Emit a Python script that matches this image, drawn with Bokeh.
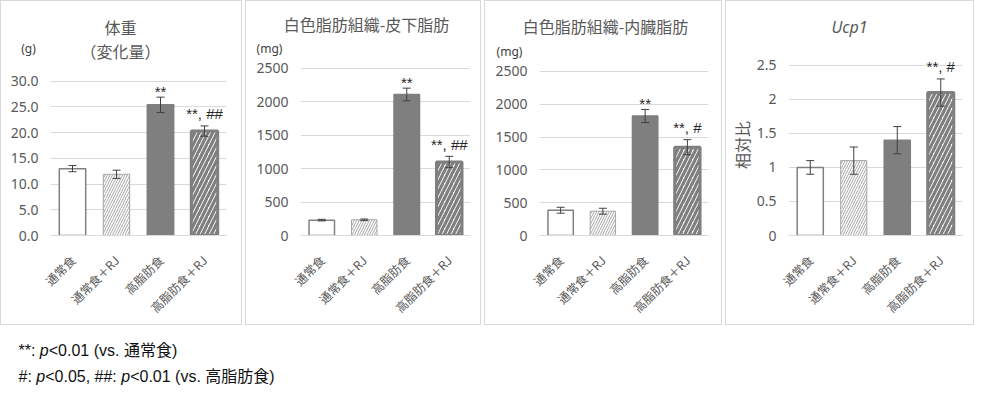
import math
from bokeh.plotting import figure
from bokeh.models import (ColumnDataSource, Range1d, FixedTicker,
                          NumeralTickFormatter, Whisker, TeeHead, Label)
from bokeh.layouts import row, column
from bokeh.core.properties import value
from bokeh.embed import file_html
from bokeh.resources import INLINE

# ---------------- data ----------------
groups = ["通常食", "通常食＋RJ", "高脂肪食", "高脂肪食＋RJ"]

bw_mean = [13.0, 11.9, 25.4, 20.3]
bw_err = [0.6, 0.8, 1.5, 1.0]
bw_sig = ["", "", "**", "**, ##"]
bw_ticks = [0, 5, 10, 15, 20, 25, 30]

sc_mean = [230, 235, 2110, 1100]
sc_err = [12, 12, 95, 85]
sc_sig = ["", "", "**", "**, ##"]

vi_mean = [385, 370, 1820, 1345]
vi_err = [45, 45, 100, 115]
vi_sig = ["", "", "**", "**, #"]
fat_ticks = [0, 500, 1000, 1500, 2000, 2500]

ucp_mean = [1.0, 1.1, 1.4, 2.1]
ucp_err = [0.1, 0.2, 0.2, 0.2]
ucp_sig = ["", "", "", "**, #"]
ucp_ticks = [0, 0.5, 1, 1.5, 2, 2.5]

titles = ["体重", "白色脂肪組織-皮下脂肪", "白色脂肪組織-内臓脂肪", "Ucp1"]
subtitle1 = "（変化量）"
units = ["(g)", "(mg)", "(mg)"]
ucp_axis_label = "相対比"
footnote1 = ["**: ", "p", "<0.01 (vs. 通常食)"]
footnote2 = ["#: ", "p", "<0.05, ##: ", "p", "<0.01 (vs. 高脂肪食)"]

# ---------------- styles ----------------
FILLS = ["white", "white", "#7f7f7f", "white"]
LINES = ["#808080", "#a6a6a6", "#7f7f7f", "#7f7f7f"]
LWS = [1.5, 1.0, 1.5, 3.0]
HATCH = [" ", "/", " ", "/"]
HCOL = ["#a6a6a6", "#a6a6a6", "#7f7f7f", "#7f7f7f"]
HSCALE = [5, 5, 9, 9]
HWEIGHT = [1, 1, 3.2, 3.2]

TXT = "#595959"
CJK = "Noto Sans CJK JP"
NUM = "Noto Sans"
BORDER = "1px solid #d9d9d9"
INNER_H = 323


def make_chart(w, head_h, L, R, y0, means, errs, sigs, ticks, y_end, fmt,
               ylabel=None):
    h = INNER_H - head_h
    src = ColumnDataSource(dict(
        x=groups, top=means,
        upper=[m + e for m, e in zip(means, errs)],
        lower=[m - e for m, e in zip(means, errs)],
        sig=sigs, sig_dy=[-12 if "#" in s else -6 for s in sigs],
        fill=FILLS, line=LINES, lw=LWS, hatch=HATCH,
        hcol=HCOL, hscale=HSCALE, hweight=HWEIGHT))
    p = figure(width=w, height=h, x_range=groups, y_range=Range1d(0, y_end),
               output_backend="svg", toolbar_location=None,
               min_border_left=L, min_border_right=R,
               min_border_top=0, min_border_bottom=INNER_H - y0,
               outline_line_color=None, background_fill_color="white",
               border_fill_color="white")
    p.vbar(x="x", top="top", width=0.6, source=src,
           fill_color="fill", line_color="line", line_width="lw",
           hatch_pattern="hatch", hatch_color="hcol", hatch_scale="hscale",
           hatch_weight="hweight")
    wh = Whisker(base="x", upper="upper", lower="lower", source=src,
                 line_color="#404040", line_width=1, level="overlay",
                 upper_head=TeeHead(size=8, line_color="#404040", line_width=1),
                 lower_head=TeeHead(size=8, line_color="#404040", line_width=1))
    p.add_layout(wh)
    p.text(x="x", y="upper", text="sig", source=src, text_align="center",
           text_baseline="alphabetic", y_offset="sig_dy",
           text_font=value("Liberation Sans"), text_font_size="15px",
           text_color="#262626")

    p.yaxis.ticker = FixedTicker(ticks=ticks)
    p.yaxis.formatter = fmt
    p.yaxis.axis_line_color = None
    p.yaxis.major_tick_line_color = None
    p.yaxis.minor_tick_line_color = None
    p.yaxis.major_tick_out = 0
    p.yaxis.major_label_standoff = 12
    p.yaxis.major_label_text_font = NUM
    p.yaxis.major_label_text_font_size = "14px"
    p.yaxis.major_label_text_color = TXT
    if ylabel:
        p.yaxis.axis_label = ylabel
        p.yaxis.axis_label_standoff = 0
        p.yaxis.axis_label_text_font = CJK
        p.yaxis.axis_label_text_font_size = "16px"
        p.yaxis.axis_label_text_font_style = "normal"
        p.yaxis.axis_label_text_color = TXT

    p.xaxis.axis_line_color = "#d9d9d9"
    p.xaxis.major_tick_line_color = None
    p.xaxis.major_tick_out = 0
    p.xaxis.major_label_orientation = math.pi / 4
    p.xaxis.major_label_standoff = 22
    p.xaxis.major_label_text_font = CJK
    p.xaxis.major_label_text_font_size = "12px"
    p.xaxis.major_label_text_color = TXT

    p.ygrid.grid_line_color = "#d9d9d9"
    p.xgrid.grid_line_color = None
    return p


def make_header(w, head_h):
    return figure(width=w, height=head_h, x_range=Range1d(0, 1), y_range=Range1d(0, 1),
                  output_backend="svg", toolbar_location=None,
                  x_axis_type=None, y_axis_type=None, outline_line_color=None,
                  min_border=0, border_fill_color="white",
                  background_fill_color="white")


def lab(p, x, y, text, size="16px", color=TXT, font=CJK, style="normal"):
    p.add_layout(Label(x=x, y=y, x_units="canvas", y_units="canvas", text=text,
                       text_align="center", text_baseline="middle",
                       text_font=font, text_font_size=size, text_color=color,
                       text_font_style=style))


def panel(header, chart):
    return column(row(header), chart, styles={"border": BORDER})


# panel 1 : body weight
H1 = 62
h1 = make_header(240, H1)
lab(h1, 119, 25, titles[0])
lab(h1, 119, 49, subtitle1)
lab(h1, 27, 47, units[0], size="12px", color="#404040", font=NUM)
c1 = make_chart(240, H1, 49, 15, 237, bw_mean, bw_err, bw_sig, bw_ticks,
                30 + (80 - H1) * 30 / 157, NumeralTickFormatter(format="0.0"))

# panel 2 : subcutaneous fat
H2 = 56
h2 = make_header(234, H2)
lab(h2, 120, 22, titles[1])
lab(h2, 23, 47, units[1], size="12px", color="#404040", font=NUM)
c2 = make_chart(234, H2, 54, 10, 235, sc_mean, sc_err, sc_sig, fat_ticks,
                2500 + (67 - H2) * 2500 / 168, NumeralTickFormatter(format="0"))

# panel 3 : visceral fat
H3 = 59
h3 = make_header(236, H3)
lab(h3, 120, 24, titles[2])
lab(h3, 24, 50, units[2], size="12px", color="#404040", font=NUM)
c3 = make_chart(236, H3, 54, 13, 236, vi_mean, vi_err, vi_sig, fat_ticks,
                2500 + (70 - H3) * 2500 / 166, NumeralTickFormatter(format="0"))

# panel 4 : Ucp1
H4 = 53
h4 = make_header(247, H4)
lab(h4, 123, 25, titles[3], font=NUM, style="italic")
c4 = make_chart(247, H4, 52, 11, 237, ucp_mean, ucp_err, ucp_sig, ucp_ticks,
                2.5 + (64 - H4) * 2.5 / 173, NumeralTickFormatter(format="0.[0]"),
                ylabel=ucp_axis_label)

# ---------------- footnote ----------------
foot = figure(width=974, height=60, x_range=Range1d(0, 1), y_range=Range1d(0, 1),
              output_backend="svg", toolbar_location=None,
              x_axis_type=None, y_axis_type=None, outline_line_color=None,
              min_border=0, border_fill_color="white", background_fill_color="white")
FN_FONT = "Liberation Sans, Noto Sans CJK JP"
EM = 16.0
W = {"**: ": 1.334, "p": 0.556, "#: ": 1.112, "<0.05, ##: ": 4.754}


def foot_line(parts, y):
    x = 18.0
    for t in parts:
        foot.add_layout(Label(x=x, y=y, x_units="canvas", y_units="canvas",
                              text=t, text_align="left", text_baseline="middle",
                              text_font=FN_FONT, text_font_size="16px",
                              text_color="#111111",
                              text_font_style="italic" if t == "p" else "normal"))
        x += W.get(t, 0) * EM


foot_line(footnote1, 25)
foot_line(footnote2, 51)

layout = column(row(panel(h1, c1), panel(h2, c2), panel(h3, c3), panel(h4, c4),
                    spacing=3),
                foot)
open("out.html", "w").write(file_html(layout, INLINE))
